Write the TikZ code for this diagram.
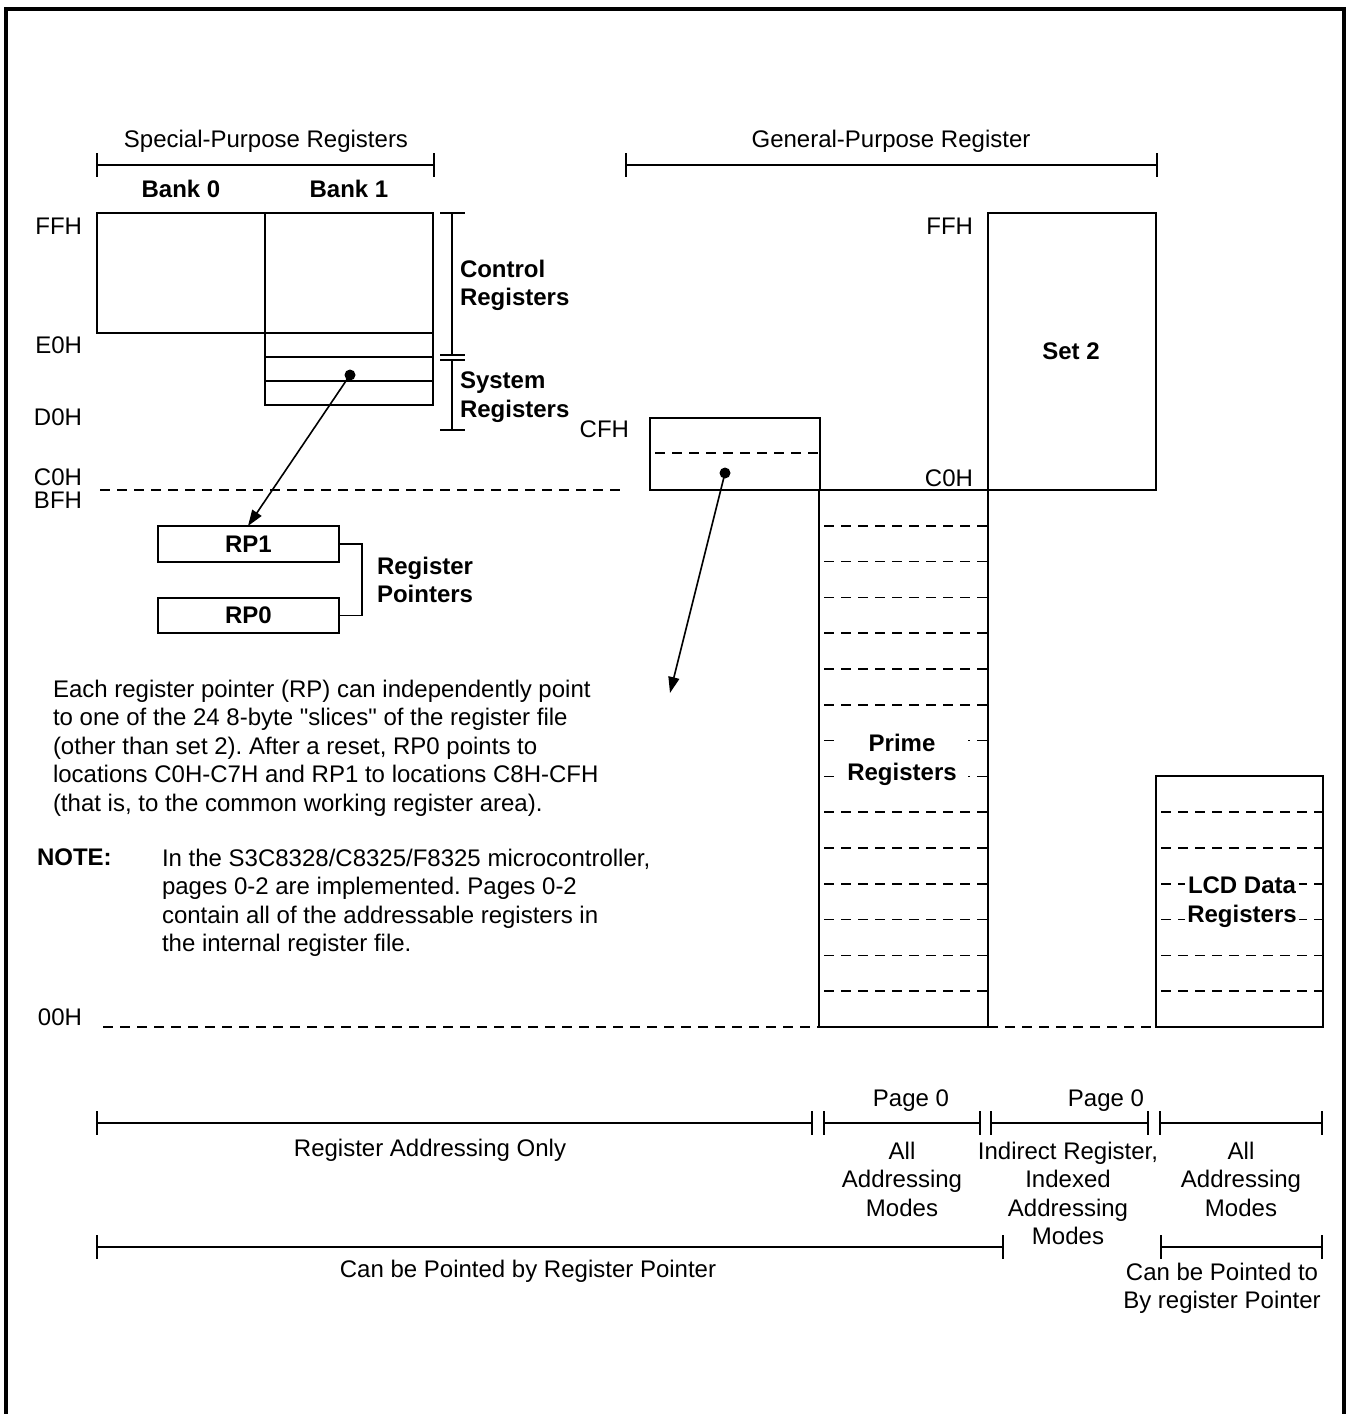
\documentclass[tikz,border=0pt]{standalone}
\usepackage{fontspec}
\setmainfont{Liberation Sans}[Ligatures=TeXOff]
\usetikzlibrary{arrows.meta}
\frenchspacing
\begin{document}
\begin{tikzpicture}[x=1pt,y=-1pt,
  txt/.style={font=\fontsize{24}{28.5}\selectfont, inner sep=0pt, outer sep=0pt},
  btxt/.style={font=\fontsize{24}{28.5}\selectfont\bfseries, inner sep=0pt, outer sep=0pt},
  box/.style={draw, line width=1.8pt, anchor=north west, inner sep=0pt, outer sep=0pt},
  ln/.style={line width=1.8pt},
  dsh/.style={line width=1.6pt, dash pattern=on 10pt off 7pt},
  ptr/.style={line width=1.6pt, -{Triangle[length=16pt,width=11pt]}},
  dotn/.style={circle, fill, inner sep=0pt, minimum size=11pt},
  mask/.style={fill=white},
]
\fill[white] (0,0) rectangle (1351,1414);
\useasboundingbox (0,0) rectangle (1351,1414);
% frame
\draw[line width=4pt] (6,1414) -- (6,9) -- (1344,9) -- (1344,1414);

% top headers and brackets
\node[txt] (spr) at (266,141) {Special-Purpose Registers};
\node[txt] (gpr) at (891,141) {General-Purpose Register};
\draw[ln] (97,165) -- (434,165);
\draw[ln] (97,153) -- (97,177);
\draw[ln] (434,153) -- (434,177);
\draw[ln] (626,165) -- (1157,165);
\draw[ln] (626,153) -- (626,177);
\draw[ln] (1157,153) -- (1157,177);
\node[btxt] (b0) at (181,189) {Bank 0};
\node[btxt] (b1) at (349,189) {Bank 1};

% address labels
\node[txt, anchor=east] (ffh) at (82,226) {FFH};
\node[txt, anchor=east] (e0h) at (82,345) {E0H};
\node[txt, anchor=east] (d0h) at (82,417) {D0H};
\node[txt, anchor=east] (c0h) at (82,477) {C0H};
\node[txt, anchor=east] (bfh) at (82,500) {BFH};
\node[txt, anchor=east] (zzh) at (82,1017) {00H};
\node[txt, anchor=east] (cfh) at (629,429) {CFH};
\node[txt, anchor=east] (ffh2) at (973,226) {FFH};
\node[txt, anchor=east] (c0h2) at (973,478) {C0H};

% bank boxes
\node[box, minimum width=168, minimum height=120] (bank0) at (97,213) {};
\node[box, minimum width=168, minimum height=192] (bank1) at (265,213) {};
\draw[ln] (265,333) -- (433,333);
\draw[ln] (265,357) -- (433,357);
\draw[ln] (265,381) -- (433,381);

% control / system bracket
\draw[ln] (452,213) -- (452,355);
\draw[ln] (440,213) -- (465,213);
\draw[ln] (440,355) -- (465,355);
\draw[ln] (440,360) -- (465,360);
\draw[ln] (452,360) -- (452,430);
\draw[ln] (440,430) -- (465,430);
\node[btxt, anchor=north west, align=left] (ctrl) at (460,260) {Control\\Registers};
\node[btxt, anchor=north west, align=left] (sys) at (460,372) {System\\Registers};

% dashed boundaries
\draw[dsh] (100,490) -- (626,490);
\draw[dsh] (103,1027) -- (819,1027);
\draw[dsh] (988,1027) -- (1156,1027);

% prime register slices
\foreach \k in {1,...,14} \draw[dsh] (824,{490+35.8*\k}) -- (988,{490+35.8*\k});
% LCD slices
\foreach \k in {9,...,14} \draw[dsh] (1161,{490+35.8*\k}) -- (1323,{490+35.8*\k});
% CF box slice
\draw[dsh] (655,453) -- (820,453);

\node[btxt, mask, align=center, inner xsep=11pt, inner ysep=4pt] (prime) at (902,760) {Prime\\Registers};
\node[btxt, mask, align=center, inner xsep=2pt, inner ysep=3pt] (lcd) at (1242,902) {LCD Data\\Registers};

% general purpose boxes
\node[box, minimum width=170, minimum height=72] (cfbox) at (650,418) {};
\node[box, minimum width=168, minimum height=277] (set2) at (988,213) {};
\node[btxt] (set2t) at (1071,351) {Set 2};
\node[box, minimum width=169, minimum height=537] (primebox) at (819,490) {};
\node[box, minimum width=167, minimum height=251] (lcdbox) at (1156,776) {};

% register pointers
\node[box, minimum width=181, minimum height=36] (rp1) at (158,526) {};
\node[btxt] (rp1t) at (rp1.center) {RP1};
\node[box, minimum width=181, minimum height=35] (rp0) at (158,598) {};
\node[btxt] (rp0t) at (rp0.center) {RP0};
\draw[ln] (rp1.east) -- ++(23,0) |- (rp0.east);
\node[btxt, anchor=north west, align=left] (rpl) at (377,557) {Register\\Pointers};

% pointer arrows
\node[dotn] (d1) at (350,375) {};
\coordinate (t1) at (248,526);
\draw[ptr] (d1.center) -- (t1);
\node[dotn] (d2) at (725,473) {};
\coordinate (t2) at (670,693);
\draw[ptr] (d2.center) -- (t2);

% explanatory text
\node[txt, anchor=north west, align=left] (para) at (53,680) {Each register pointer (RP) can independently point\\to one of the 24 8-byte "slices" of the register file\\(other than set 2). After a reset, RP0 points to\\locations C0H-C7H and RP1 to locations C8H-CFH\\(that is, to the common working register area).};
\node[btxt, anchor=north west] (notel) at (37,849) {NOTE:};
\node[txt, anchor=north west, align=left] (note) at (162,849) {In the S3C8328/C8325/F8325 microcontroller,\\pages 0-2 are implemented. Pages 0-2\\contain all of the addressable registers in\\the internal register file.};

% bottom ranges, row 1
\draw[ln] (97,1123) -- (812,1123);
\draw[ln] (97,1111) -- (97,1135);
\draw[ln] (812,1111) -- (812,1135);
\draw[ln] (824,1123) -- (980,1123);
\draw[ln] (824,1111) -- (824,1135);
\draw[ln] (980,1111) -- (980,1135);
\draw[ln] (991,1123) -- (1148,1123);
\draw[ln] (991,1111) -- (991,1135);
\draw[ln] (1148,1111) -- (1148,1135);
\draw[ln] (1160,1123) -- (1322,1123);
\draw[ln] (1160,1111) -- (1160,1135);
\draw[ln] (1322,1111) -- (1322,1135);
\node[txt] (pg1) at (911,1101) {Page 0};
\node[txt] (pg2) at (1106,1101) {Page 0};
\node[txt] (rao) at (430,1150) {Register Addressing Only};
\node[txt, align=center, anchor=north] (aam1) at (902,1142) {All\\Addressing\\Modes};
\node[txt, align=center, anchor=north] (iri) at (1068,1142) {Indirect Register,\\Indexed\\Addressing\\Modes};
\node[txt, align=center, anchor=north] (aam2) at (1241,1142) {All\\Addressing\\Modes};

% bottom ranges, row 2
\draw[ln] (97,1247) -- (1003,1247);
\draw[ln] (97,1235) -- (97,1259);
\draw[ln] (1003,1235) -- (1003,1259);
\draw[ln] (1161,1247) -- (1322,1247);
\draw[ln] (1161,1235) -- (1161,1259);
\draw[ln] (1322,1235) -- (1322,1259);
\node[txt] (cbp) at (528,1271) {Can be Pointed by Register Pointer};
\node[txt, align=center, anchor=north] (cbp2) at (1222,1263) {Can be Pointed to\\By register Pointer};
\end{tikzpicture}
\end{document}
